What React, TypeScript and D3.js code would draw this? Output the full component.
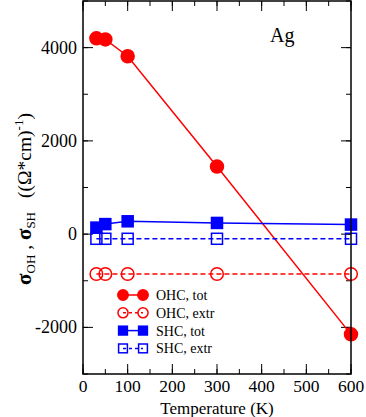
import React from 'react';
import * as d3 from 'd3';

// temperatures (K)
const temps = [30, 50, 100, 300, 600];
// conductivities ((Ohm*cm)^-1)
const ohcTot = [4200, 4175, 3815, 1450, -2150];
const ohcExtr = [-855, -855, -855, -855, -855];
const shcTot = [140, 215, 275, 240, 205];
const shcExtr = [-100, -100, -100, -100, -100];

const xTicks = [0, 100, 200, 300, 400, 500, 600];
const yTicks = [-2000, 0, 2000, 4000];
const xMinor = d3.range(0, 601, 50);
const yMinor = d3.range(-3000, 5001, 1000);

const legendLabels = ['OHC, tot', 'OHC, extr', 'SHC, tot', 'SHC, extr'];

const W = 366, H = 417;
const margin = { top: 1, right: 15, bottom: 43, left: 83 };
const FONT = '"Liberation Serif", "Times New Roman", serif';

export default function App() {
  const x = d3.scaleLinear().domain([0, 600]).range([margin.left, W - margin.right]);
  const y = d3.scaleLinear().domain([-3000, 5000]).range([H - margin.bottom, margin.top]);
  const line = d3.line<number>().x((_, i) => x(temps[i])).y(d => y(d));

  const x0 = x(0), x1 = x(600), y0 = y(-3000), y1 = y(5000);
  const RED = '#ff0000', BLUE = '#0000ff';

  const series = [
    { vals: ohcTot, color: RED, dash: undefined, shape: 'circle', fill: true },
    { vals: ohcExtr, color: RED, dash: '5,3', shape: 'circle', fill: false },
    { vals: shcTot, color: BLUE, dash: undefined, shape: 'square', fill: true },
    { vals: shcExtr, color: BLUE, dash: '5,3', shape: 'square', fill: false },
  ];

  const marker = (shape: string, fill: boolean, color: string, cx: number, cy: number, key: any, k = 1) =>
    shape === 'circle' ? (
      <circle key={key} cx={cx} cy={cy} r={(fill ? 6.5 : 6.3) * k}
        fill={fill ? color : 'none'} stroke={color} strokeWidth={1.5} />
    ) : (
      <rect key={key} x={cx - 5.5 * k} y={cy - 5.5 * k} width={11 * k} height={11 * k}
        fill={fill ? color : 'none'} stroke={color} strokeWidth={1.5} />
    );

  return (
    <svg width={W} height={H} style={{ position: 'absolute', left: 0, top: 0 }} fontFamily={FONT}>
      <rect width={W} height={H} fill="#fff" />

      {/* minor ticks */}
      {xMinor.map(v => (
        <g key={'xm' + v} stroke="#000" strokeWidth={1}>
          <line x1={x(v)} x2={x(v)} y1={y0} y2={y0 - 5} />
          <line x1={x(v)} x2={x(v)} y1={y1} y2={y1 + 5} />
        </g>
      ))}
      {yMinor.map(v => (
        <g key={'ym' + v} stroke="#000" strokeWidth={1}>
          <line x1={x0} x2={x0 + 5} y1={y(v)} y2={y(v)} />
          <line x1={x1} x2={x1 - 5} y1={y(v)} y2={y(v)} />
        </g>
      ))}
      {/* major ticks */}
      {xTicks.map(v => (
        <g key={'xM' + v}>
          <line x1={x(v)} x2={x(v)} y1={y0} y2={y0 - 10} stroke="#000" strokeWidth={1} />
          <line x1={x(v)} x2={x(v)} y1={y1} y2={y1 + 10} stroke="#000" strokeWidth={1} />
          <text x={x(v)} y={y0 + 17.5} textAnchor="middle" fontSize={17.5}>{v}</text>
        </g>
      ))}
      {yTicks.map(v => (
        <g key={'yM' + v}>
          <line x1={x0} x2={x0 + 10} y1={y(v)} y2={y(v)} stroke="#000" strokeWidth={1} />
          <line x1={x1} x2={x1 - 10} y1={y(v)} y2={y(v)} stroke="#000" strokeWidth={1} />
          <text x={x0 - 6} y={y(v) + 6} textAnchor="end" fontSize={18}>{v}</text>
        </g>
      ))}

      {/* series */}
      {series.map((s, si) => (
        <g key={'s' + si}>
          <path d={line(s.vals) || ''} fill="none" stroke={s.color} strokeWidth={1.5}
            strokeDasharray={s.dash} />
          {s.vals.map((v, i) => marker(s.shape, s.fill, s.color, x(temps[i]), y(v), i))}
        </g>
      ))}

      {/* frame */}
      <rect x={x0} y={y1} width={x1 - x0} height={y0 - y1} fill="none" stroke="#000" strokeWidth={1.5} />

      <text x={270} y={42} fontSize={20}>Ag</text>

      {/* legend */}
      {series.map((s, i) => {
        const ly = 295 + i * 17.8;
        return (
          <g key={'lg' + i}>
            <line x1={123} x2={143} y1={ly} y2={ly} stroke={s.color} strokeWidth={1.5}
              strokeDasharray={s.dash ? '3,3' : undefined} />
            {marker(s.shape, s.fill, s.color, 123, ly, 'a', 0.8)}
            {marker(s.shape, s.fill, s.color, 143, ly, 'b', 0.8)}
            <text x={156} y={ly + 5} fontSize={14}>{legendLabels[i]}</text>
          </g>
        );
      })}

      <text x={217} y={414} textAnchor="middle" fontSize={17}>Temperature (K)</text>

      <text transform="translate(31,199) rotate(-90)" textAnchor="middle" fontSize={19.5}>
        <tspan fontWeight="bold" fontSize={21}>σ</tspan>
        <tspan fontSize={13} dy={4}>OH</tspan>
        <tspan dy={-4}> , </tspan>
        <tspan fontWeight="bold" fontSize={21}>σ</tspan>
        <tspan fontSize={13} dy={4}>SH</tspan>
        <tspan dy={-4} dx={14}>((Ω*cm)</tspan>
        <tspan fontSize={13} dy={-8}>-1</tspan>
        <tspan dy={8}>)</tspan>
      </text>
    </svg>
  );
}
